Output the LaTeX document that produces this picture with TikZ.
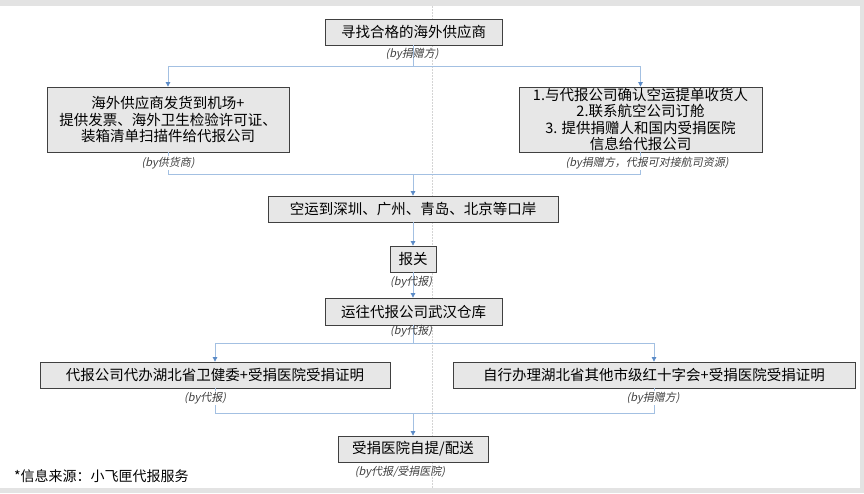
\documentclass[tikz,border=0pt]{standalone}
\usepackage{fontspec}
\setmainfont{Noto Sans CJK SC}
\newfontfamily\cjkit{Noto Sans CJK SC}[FakeSlant=0.2]
\usetikzlibrary{arrows.meta}
\definecolor{bandgray}{HTML}{E3E3E3}
\definecolor{boxfill}{HTML}{E7E7E7}
\definecolor{boxdraw}{HTML}{404040}
\definecolor{connc}{HTML}{A3C0E2}
\definecolor{arrc}{HTML}{5B8BC7}
\definecolor{labtext}{HTML}{404040}
\definecolor{midc}{HTML}{D4D4D4}
\tikzset{
  box/.style={draw=boxdraw, fill=boxfill, line width=0.8pt, inner sep=0pt, align=center,
    font=\fontsize{14.5}{16.3}\selectfont, text=black},
  lab/.style={font=\cjkit\fontsize{11}{12}\selectfont, text=labtext, inner sep=1pt},
  labw/.style={lab, fill=white},
  conn/.style={draw=connc, line width=0.7pt},
  arr/.style={conn, -{Triangle[width=4.5pt,length=4.5pt,color=arrc]}},
  note/.style={font=\fontsize{14}{15}\selectfont, text=black, anchor=west, inner sep=0pt}
}
\begin{document}
\begin{tikzpicture}[x=1pt,y=-1pt]
\useasboundingbox (0,0) rectangle (864,493);
\fill[white] (0,0) rectangle (864,493);
\fill[bandgray] (0,0) rectangle (864,6);
\fill[bandgray] (860,0) rectangle (864,493);
\fill[bandgray] (0,488) rectangle (864,493);
\draw[midc, line width=0.6pt, dash pattern=on 2pt off 1pt] (432,6) -- (432,488);

% boxes
\node[box, minimum width=177pt, minimum height=26pt] (b1) at (413.5,32) {寻找合格的海外供应商};
\node[box, minimum width=242pt, minimum height=65pt] (b2) at (168,119.5) {海外供应商发货到机场+\\提供发票、海外卫生检验许可证、\\装箱清单扫描件给代报公司};
\node[box, minimum width=243pt, minimum height=65pt] (b3) at (640.5,119.5) {1.与代报公司确认空运提单收货人\\2.联系航空公司订舱\\3. 提供捐赠人和国内受捐医院\\信息给代报公司};
\node[box, minimum width=290pt, minimum height=26pt] (b4) at (413,209) {空运到深圳、广州、青岛、北京等口岸};
\node[box, minimum width=46pt, minimum height=26pt] (b5) at (413,259) {报关};
\node[box, minimum width=177pt, minimum height=27pt] (b6) at (413.5,311.5) {运往代报公司武汉仓库};
\node[box, minimum width=350pt, minimum height=26pt] (b7) at (215,375) {代报公司代办湖北省卫健委+受捐医院受捐证明};
\node[box, minimum width=402pt, minimum height=26pt] (b8) at (654,375) {自行办理湖北省其他市级红十字会+受捐医院受捐证明};
\node[box, minimum width=150pt, minimum height=26pt] (b9) at (413,449) {受捐医院自提/配送};

% junctions
\coordinate (j1) at (413,66);
\coordinate (j2) at (413,174);
\coordinate (j3) at (413,343);
\coordinate (j4) at (413,413);

% connectors
\draw[conn] (b1.south -| j1) -- (j1);
\draw[arr] (j1) -| (b2.north);
\draw[arr] (j1) -| (b3.north);
\draw[conn] (b2.south) |- (j2);
\draw[conn] (b3.south) |- (j2);
\draw[arr] (j2) -- (b4.north -| j2);
\draw[arr] (b4.south -| j2) -- (b5.north);
\draw[arr] (b5.south) -- (b6.north -| b5.south);
\draw[conn] (b6.south -| j3) -- (j3);
\draw[arr] (j3) -| (b7.north);
\draw[arr] (j3) -| (b8.north);
\draw[conn] (b7.south) |- (j4);
\draw[conn] (b8.south) |- (j4);
\draw[arr] (j4) -- (b9.north -| j4);

% labels
\node[lab] (l1) at (412,54) {(by捐赠方)};
\node[labw] (l2) at (168,163) {(by供货商)};
\node[labw] (l3) at (647,163) {(by捐赠方，代报可对接航司资源)};
\node[lab] (l5) at (411,282) {(by代报)};
\node[lab] (l6) at (411,331) {(by代报)};
\node[labw] (l7) at (205,398) {(by代报)};
\node[labw] (l8) at (653,398) {(by捐赠方)};
\node[lab] (l9) at (400,472) {(by代报/受捐医院)};

\node[note] (n1) at (14,476) {*信息来源：小飞匣代报服务};
\end{tikzpicture}
\end{document}
